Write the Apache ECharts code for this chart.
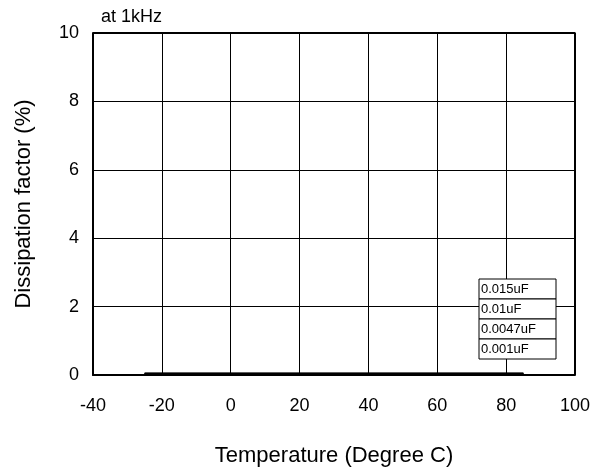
<!DOCTYPE html>
<html>
<head>
<meta charset="utf-8">
<script src="https://cdn.jsdelivr.net/npm/echarts@6/dist/echarts.min.js"></script>
<style>
  html, body { margin: 0; padding: 0; background: #fff; }
  #chart { width: 595px; height: 472px; }
</style>
</head>
<body>
<div id="chart"></div>
<script>
// temperature points (deg C) and dissipation factor (%) per capacitance
const temps = [-25, 0, 20, 40, 60, 85]
const cap015 = [0.05, 0.05, 0.05, 0.05, 0.05, 0.05]
const cap01 = [0.045, 0.045, 0.045, 0.045, 0.045, 0.045]
const cap0047 = [0.04, 0.04, 0.04, 0.04, 0.04, 0.04]
const cap001 = [0.035, 0.035, 0.035, 0.035, 0.035, 0.035]
const seriesNames = ['0.015uF', '0.01uF', '0.0047uF', '0.001uF']
const seriesValues = [cap015, cap01, cap0047, cap001]

const font = 'Liberation Sans, Arial, sans-serif'
const chart = echarts.init(document.getElementById('chart'))

chart.setOption({
  animation: false,
  title: {
    text: 'at 1kHz',
    left: 101, top: 8, padding: 0,
    textStyle: { fontFamily: font, fontSize: 18, fontWeight: 'normal', color: '#000' }
  },
  // one boxed legend per row, stacked so the borders touch
  legend: seriesNames.map((name, i) => ({
    data: [name],
    left: 479,
    top: 279 + i * 20,
    orient: 'vertical',
    align: 'right',
    icon: 'rect',
    itemWidth: 0,
    itemHeight: 0,
    padding: [1, 0, 1, 2],
    borderColor: '#000',
    borderWidth: 1,
    backgroundColor: '#fff',
    selectedMode: false,
    formatter: '{a|{name}}',
    textStyle: {
      fontFamily: font, fontSize: 13, color: '#000',
      rich: { a: { fontFamily: font, fontSize: 13, color: '#000', width: 70, height: 18, lineHeight: 18, align: 'left' } }
    }
  })),
  grid: { left: 93, right: 20, top: 33, bottom: 96 },
  xAxis: {
    type: 'value',
    min: -40, max: 100, interval: 20,
    name: 'Temperature (Degree C)',
    nameLocation: 'middle',
    nameGap: 70,
    nameTextStyle: { fontFamily: font, fontSize: 22, color: '#000' },
    axisLine: { onZero: false, lineStyle: { color: '#000', width: 2 } },
    axisTick: { show: false },
    axisLabel: { fontFamily: font, fontSize: 18, color: '#000', margin: 22 },
    splitLine: { lineStyle: { color: '#000', width: 1 } }
  },
  yAxis: {
    type: 'value',
    min: 0, max: 10, interval: 2,
    name: 'Dissipation factor (%)',
    nameLocation: 'middle',
    nameGap: 58,
    nameTextStyle: { fontFamily: font, fontSize: 22, color: '#000' },
    axisLine: { show: true, onZero: false, lineStyle: { color: '#000', width: 2 } },
    axisTick: { show: false },
    axisLabel: { fontFamily: font, fontSize: 18, color: '#000', margin: 14 },
    splitLine: { lineStyle: { color: '#000', width: 1 } }
  },
  series: seriesNames.map((name, i) => ({
    name,
    type: 'line',
    data: temps.map((t, j) => [t, seriesValues[i][j]]),
    symbol: 'none',
    lineStyle: { color: '#000', width: 1.5 },
    itemStyle: { color: '#000' },
    z: 1
  })).concat([{
    // right and top frame of the plot box
    type: 'line',
    data: [[-40, 10], [100, 10], [100, 0]],
    symbol: 'none',
    silent: true,
    lineStyle: { color: '#000', width: 2 },
    z: 3
  }])
})
</script>
</body>
</html>
